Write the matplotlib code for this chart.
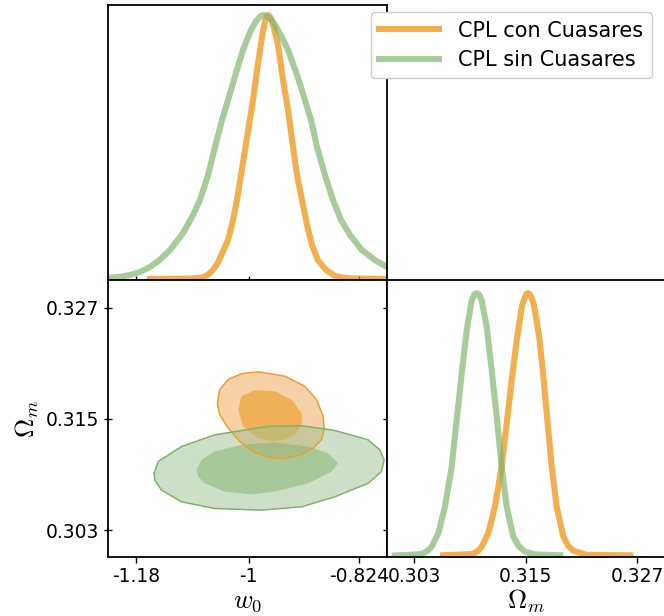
import matplotlib
matplotlib.use("Agg")
import matplotlib.pyplot as plt
from matplotlib.lines import Line2D

plt.rcParams["mathtext.fontset"] = "cm"
plt.rcParams["font.family"] = "DejaVu Sans"

LABELS = ["CPL con Cuasares", "CPL sin Cuasares"]

# 1D marginal of w0 (normalised density)
W0_CON = [-1.1624, -1.0938, -1.0730, -1.0650, -1.0571, -1.0500, -1.0443, -1.0331, -1.0251, -1.0188,
          -1.0124, -1.0060, -0.9996, -0.9932, -0.9868, -0.9820, -0.9780, -0.9740, -0.9715, -0.9693,
          -0.9665, -0.9635, -0.9600, -0.9533, -0.9453, -0.9373, -0.9294, -0.9229, -0.9150, -0.9070,
          -0.8990, -0.8895, -0.8767, -0.8623, -0.8500, -0.8384, -0.7793]
P_W0_CON = [0.004, 0.005, 0.010, 0.020, 0.038, 0.062, 0.091, 0.151, 0.226, 0.302,
            0.396, 0.491, 0.585, 0.679, 0.792, 0.868, 0.930, 0.975, 0.993, 1.000,
            0.995, 0.980, 0.955, 0.887, 0.755, 0.642, 0.502, 0.396, 0.302, 0.208,
            0.132, 0.075, 0.038, 0.015, 0.009, 0.006, 0.004]
W0_SIN = [-1.2247, -1.2050, -1.1896, -1.1740, -1.1577, -1.1420, -1.1257, -1.1050, -1.0890, -1.0778,
          -1.0650, -1.0539, -1.0427, -1.0331, -1.0204, -1.0092, -1.0010, -0.9948, -0.9880, -0.9820,
          -0.9773, -0.9720, -0.9660, -0.9597, -0.9490, -0.9373, -0.9229, -0.9102, -0.9006, -0.8910,
          -0.8783, -0.8655, -0.8527, -0.8384, -0.8193, -0.7985, -0.7793]
P_W0_SIN = [0.008, 0.012, 0.019, 0.030, 0.049, 0.076, 0.113, 0.177, 0.245, 0.302,
            0.396, 0.502, 0.604, 0.679, 0.781, 0.868, 0.918, 0.951, 0.978, 0.994,
            1.000, 0.997, 0.988, 0.970, 0.925, 0.868, 0.774, 0.679, 0.604, 0.502,
            0.396, 0.302, 0.226, 0.170, 0.113, 0.075, 0.049]

# 1D marginal of Omega_m
OM_CON = [0.30579, 0.30921, 0.30980, 0.31028, 0.31099, 0.31171, 0.31243, 0.31297, 0.31351, 0.31405,
          0.31459, 0.31490, 0.31510, 0.31526, 0.31545, 0.31565, 0.31591, 0.31645, 0.31688, 0.31728,
          0.31782, 0.31835, 0.31906, 0.31960, 0.32014, 0.32158, 0.32660]
P_OM_CON = [0.006, 0.011, 0.020, 0.039, 0.090, 0.191, 0.342, 0.506, 0.670, 0.822,
            0.947, 0.983, 0.997, 1.000, 0.995, 0.982, 0.955, 0.840, 0.700, 0.544,
            0.342, 0.191, 0.077, 0.042, 0.024, 0.008, 0.006]
OM_SIN = [0.30060, 0.30382, 0.30440, 0.30490, 0.30561, 0.30633, 0.30705, 0.30759, 0.30813, 0.30867,
          0.30921, 0.30948, 0.30974, 0.31000, 0.31028, 0.31082, 0.31136, 0.31190, 0.31243, 0.31297,
          0.31368, 0.31430, 0.31494, 0.31600, 0.31906]
P_OM_SIN = [0.005, 0.011, 0.022, 0.039, 0.090, 0.191, 0.342, 0.519, 0.696, 0.860,
            0.973, 0.995, 1.000, 0.995, 0.973, 0.872, 0.708, 0.531, 0.342, 0.191,
            0.077, 0.040, 0.020, 0.010, 0.006]

# 2D contours (w0, Omega_m), 68% and 95% regions
CON_95_W0 = [-0.9850, -0.9425, -0.9106, -0.8919, -0.8812, -0.8796, -0.8839, -0.8972, -0.9159, -0.9451,
             -0.9690, -0.9930, -1.0144, -1.0329, -1.0463, -1.0500, -1.0463, -1.0329, -1.0117]
CON_95_OM = [0.32010, 0.31963, 0.31854, 0.31710, 0.31528, 0.31384, 0.31275, 0.31185, 0.31112, 0.31069,
             0.31087, 0.31148, 0.31257, 0.31402, 0.31547, 0.31674, 0.31818, 0.31927, 0.31989]
CON_68_W0 = [-1.0169, -1.0117, -0.9904, -0.9585, -0.9318, -0.9159, -0.9148, -0.9239, -0.9425, -0.9638,
             -0.9904, -1.0089]
CON_68_OM = [0.31601, 0.31745, 0.31811, 0.31800, 0.31710, 0.31565, 0.31457, 0.31348, 0.31275, 0.31257,
             0.31311, 0.31420]
SIN_95_W0 = [-1.1510, -1.1446, -1.1074, -1.0543, -0.9690, -0.9159, -0.8627, -0.8094, -0.7909, -0.7838,
             -0.7882, -0.8094, -0.8627, -0.9159, -0.9797, -1.0543, -1.1074, -1.1394, -1.1501]
SIN_95_OM = [0.30914, 0.31040, 0.31202, 0.31329, 0.31420, 0.31427, 0.31376, 0.31275, 0.31167, 0.31058,
             0.30931, 0.30805, 0.30659, 0.30551, 0.30515, 0.30533, 0.30605, 0.30732, 0.30841]
SIN_68_W0 = [-1.0835, -1.0755, -1.0548, -1.0117, -0.9590, -0.9052, -0.8732, -0.8573, -0.8680, -0.9052,
             -0.9590, -0.9957, -1.0383, -1.0702, -1.0808]
SIN_68_OM = [0.30949, 0.31058, 0.31148, 0.31221, 0.31246, 0.31202, 0.31131, 0.31022, 0.30931, 0.30805,
             0.30714, 0.30685, 0.30714, 0.30805, 0.30877]

W0_TICKS = [-1.18, -1.0, -0.824]
W0_TICKLABELS = ["-1.18", "-1", "-0.824"]
OM_TICKS = [0.303, 0.315, 0.327]
OM_TICKLABELS = ["0.303", "0.315", "0.327"]

ORANGE = "#ec8e05"
GREEN = "#83b66f"
LINE_ALPHA = 0.7
LW = 4.4

fig = plt.figure(figsize=(6.64, 6.16), dpi=100)
W, H = 664, 616


def axes_px(x0, y0, x1, y1):
    return fig.add_axes([x0 / W, 1 - y1 / H, (x1 - x0) / W, (y1 - y0) / H])


ax_w = axes_px(108, 5, 387, 280)
ax_2d = axes_px(108, 280, 387, 557)
ax_om = axes_px(387, 280, 665, 557)

w0_lim = (-1.2247, -0.7793)
om_lim = (0.30009, 0.33001)
curve_kw = dict(alpha=LINE_ALPHA, lw=LW, solid_capstyle="butt", solid_joinstyle="round")

# top-left: w0 marginal
ax_w.plot(W0_CON, P_W0_CON, color=ORANGE, **curve_kw)
ax_w.plot(W0_SIN, P_W0_SIN, color=GREEN, **curve_kw)
ax_w.set_xlim(*w0_lim)
ax_w.set_ylim(0, 1.038)
ax_w.set_yticks([])
ax_w.set_xticks(W0_TICKS)
ax_w.tick_params(axis="x", direction="inout", length=6, width=1, labelbottom=False)

# bottom-left: 2D contours
ax_2d.fill(CON_95_W0, CON_95_OM, facecolor="#f0b26b", alpha=0.6, edgecolor="none")
ax_2d.fill(CON_68_W0, CON_68_OM, facecolor="#ec9c24", alpha=0.6, edgecolor="none")
ax_2d.plot(CON_95_W0 + CON_95_W0[:1], CON_95_OM + CON_95_OM[:1], color="#eba12e", lw=1.1,
           solid_joinstyle="round")
ax_2d.fill(SIN_95_W0, SIN_95_OM, facecolor="#9fc191", alpha=0.5, edgecolor="none")
ax_2d.fill(SIN_68_W0, SIN_68_OM, facecolor="#81b46e", alpha=0.5, edgecolor="none")
ax_2d.plot(SIN_95_W0 + SIN_95_W0[:1], SIN_95_OM + SIN_95_OM[:1], color="#7fb36a", lw=1.1,
           solid_joinstyle="round")
ax_2d.set_xlim(*w0_lim)
ax_2d.set_ylim(*om_lim)
ax_2d.set_xticks(W0_TICKS)
ax_2d.set_xticklabels(W0_TICKLABELS)
ax_2d.set_yticks(OM_TICKS)
ax_2d.set_yticklabels(OM_TICKLABELS)
ax_2d.tick_params(axis="both", direction="out", length=4, width=1, labelsize=13.5)
ax_2d.tick_params(axis="y", which="both", right=True, direction="inout", length=6)
ax_2d.tick_params(axis="y", labelright=False)
ax_2d.set_xlabel(r"$w_0$", fontsize=19, labelpad=1)
ax_2d.set_ylabel(r"$\Omega_m$", fontsize=19, labelpad=3)

# bottom-right: Omega_m marginal
ax_om.plot(OM_CON, P_OM_CON, color=ORANGE, **curve_kw)
ax_om.plot(OM_SIN, P_OM_SIN, color=GREEN, **curve_kw)
ax_om.set_xlim(*om_lim)
ax_om.set_ylim(0, 1.05)
ax_om.set_yticks([])
ax_om.set_xticks(OM_TICKS)
ax_om.set_xticklabels(OM_TICKLABELS)
ax_om.tick_params(axis="x", direction="out", length=4, width=1, labelsize=13.5)
ax_om.set_xlabel(r"$\Omega_m$", fontsize=19, labelpad=1)

for ax in (ax_w, ax_2d, ax_om):
    for sp in ax.spines.values():
        sp.set_linewidth(1.3)

handles = [Line2D([], [], color=ORANGE, alpha=LINE_ALPHA, lw=LW),
           Line2D([], [], color=GREEN, alpha=LINE_ALPHA, lw=LW)]
fig.legend(handles, LABELS, loc="upper right", bbox_to_anchor=(662 / W, 1 - 2 / H),
           fontsize=15, handlelength=2.9, handletextpad=0.9, borderpad=0.4,
           labelspacing=0.45, frameon=True, fancybox=True, edgecolor="#cccccc",
           framealpha=1.0)

fig.savefig("out.png", dpi=100)
